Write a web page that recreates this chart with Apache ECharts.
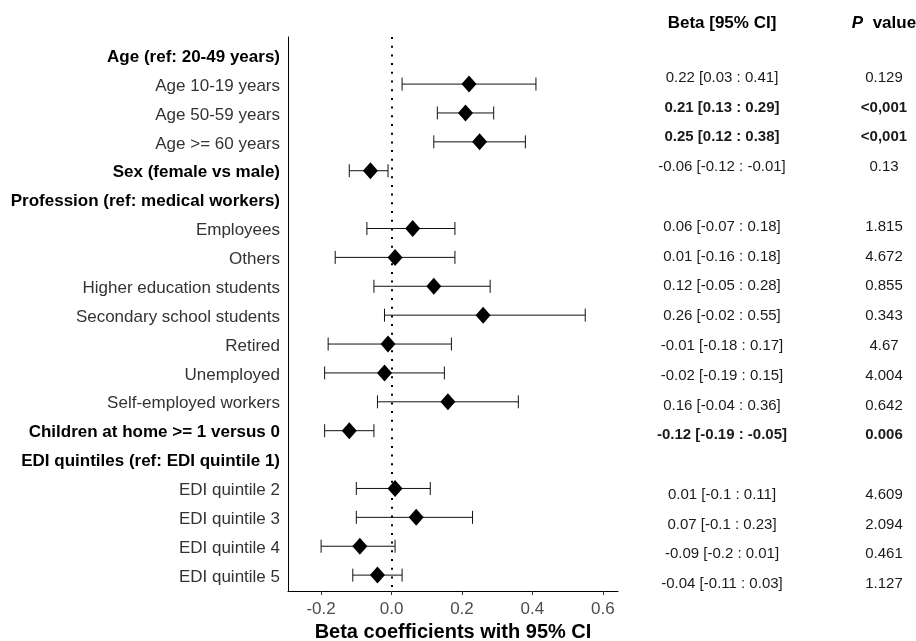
<!DOCTYPE html>
<html>
<head>
<meta charset="utf-8">
<script src="https://cdn.jsdelivr.net/npm/echarts@6/dist/echarts.min.js"></script>
<style>
html,body{margin:0;padding:0;background:#fff;}
#chart{width:916px;height:641px;}
</style>
</head>
<body>
<div id="chart"></div>
<script>
const rowLabels = ['Age (ref: 20-49 years)', 'Age 10-19 years', 'Age 50-59 years', 'Age >= 60 years',
  'Sex (female vs male)', 'Profession (ref: medical workers)', 'Employees', 'Others',
  'Higher education students', 'Secondary school students', 'Retired', 'Unemployed',
  'Self-employed workers', 'Children at home >= 1 versus 0', 'EDI quintiles (ref: EDI quintile 1)',
  'EDI quintile 2', 'EDI quintile 3', 'EDI quintile 4', 'EDI quintile 5'];
const rowBold = [1,0,0,0,1,1,0,0,0,0,0,0,0,1,1,0,0,0,0];
const beta   = [null,0.22,0.21,0.25,-0.06,null,0.06,0.01,0.12,0.26,-0.01,-0.02,0.16,-0.12,null,0.01,0.07,-0.09,-0.04];
const ciLow  = [null,0.03,0.13,0.12,-0.12,null,-0.07,-0.16,-0.05,-0.02,-0.18,-0.19,-0.04,-0.19,null,-0.1,-0.1,-0.2,-0.11];
const ciHigh = [null,0.41,0.29,0.38,-0.01,null,0.18,0.18,0.28,0.55,0.17,0.15,0.36,-0.05,null,0.11,0.23,0.01,0.03];
const pValues = ['','0.129','<0,001','<0,001','0.13','','1.815','4.672','0.855','0.343','4.67','4.004','0.642','0.006','','4.609','2.094','0.461','1.127'];
const tableBold = [0,0,1,1,0,0,0,0,0,0,0,0,0,1,0,0,0,0,0];
const xTicks = [-0.2, 0, 0.2, 0.4, 0.6];
const tableHeaders = ['Beta [95% CI]', 'P value'];
const xTitle = 'Beta coefficients with 95% CI';

const FONT = 'Liberation Sans, Arial, sans-serif';
const idx = rowLabels.map((_, i) => i);

const ciData = [];
const ptData = [];
const betaText = [];
const pText = [];
idx.forEach(i => {
  if (beta[i] !== null) {
    ciData.push([ciLow[i], ciHigh[i], i]);
    ptData.push([beta[i], i]);
    const b = tableBold[i] ? 'bold' : 'normal';
    betaText.push({value: [0, i], label: {fontWeight: b, formatter: beta[i] + ' [' + ciLow[i] + ' : ' + ciHigh[i] + ']'}});
    pText.push({value: [1, i], label: {fontWeight: b, formatter: pValues[i]}});
  }
});

const chart = echarts.init(document.getElementById('chart'), null, {renderer: 'canvas'});
chart.setOption({
  backgroundColor: '#ffffff',
  animation: false,
  textStyle: {fontFamily: FONT},
  grid: [
    {left: 288, width: 330, top: 37, height: 554, outerBoundsMode: 'none', containLabel: false},
    {left: 722, width: 162, top: 33, height: 566, outerBoundsMode: 'none', containLabel: false}
  ],
  xAxis: [
    {
      type: 'value', gridIndex: 0, min: -0.294, max: 0.643,
      splitLine: {show: false},
      axisLine: {show: true, onZero: false, lineStyle: {color: '#000', width: 1}},
      axisTick: {show: true, customValues: xTicks, length: 4, lineStyle: {color: '#333'}},
      axisLabel: {customValues: xTicks, formatter: v => v.toFixed(1), color: '#4d4d4d', fontSize: 17, margin: 10, fontFamily: FONT},
      name: xTitle, nameLocation: 'middle', nameGap: 26,
      nameTextStyle: {fontSize: 20, fontWeight: 'bold', color: '#000', fontFamily: FONT}
    },
    {
      type: 'category', gridIndex: 1, position: 'top', data: tableHeaders, boundaryGap: false,
      axisLine: {show: false}, axisTick: {show: false}, splitLine: {show: false},
      axisLabel: {
        margin: 1.5, interval: 0,
        formatter: v => v === 'P value' ? '{i|P}{h|  value}' : '{h|' + v + '}',
        rich: {
          h: {fontSize: 17, fontWeight: 'bold', color: '#000', fontFamily: FONT},
          i: {fontSize: 17, fontWeight: 'bold', fontStyle: 'italic', color: '#000', fontFamily: FONT}
        }
      }
    }
  ],
  yAxis: [
    {
      type: 'value', gridIndex: 0, inverse: true, min: -0.63, max: 18.55,
      splitLine: {show: false},
      axisLine: {show: true, onZero: false, lineStyle: {color: '#000', width: 1}},
      axisTick: {show: false},
      axisLabel: {
        customValues: idx, margin: 8,
        formatter: v => {
          const i = Math.round(v);
          return (rowBold[i] ? '{b|' : '{n|') + rowLabels[i] + '}';
        },
        rich: {
          b: {fontSize: 17, fontWeight: 'bold', color: '#000', fontFamily: FONT, padding: [4, 0, 0, 0]},
          n: {fontSize: 17, color: '#333', fontFamily: FONT, padding: [4, 0, 0, 0]}
        }
      }
    },
    {type: 'value', gridIndex: 1, inverse: true, min: -0.5, max: 18.5, show: false}
  ],
  series: [
    {
      type: 'custom', xAxisIndex: 0, yAxisIndex: 0, data: ciData, silent: true,
      renderItem: (params, api) => {
        const y = api.value(2);
        const p1 = api.coord([api.value(0), y]);
        const p2 = api.coord([api.value(1), y]);
        const h = 6.5;
        const st = {stroke: '#111', lineWidth: 1};
        return {type: 'group', children: [
          {type: 'line', shape: {x1: p1[0], y1: p1[1], x2: p2[0], y2: p2[1]}, style: st},
          {type: 'line', shape: {x1: p1[0], y1: p1[1] - h, x2: p1[0], y2: p1[1] + h}, style: st},
          {type: 'line', shape: {x1: p2[0], y1: p2[1] - h, x2: p2[0], y2: p2[1] + h}, style: st}
        ]};
      },
      markLine: {
        silent: true, symbol: 'none', label: {show: false},
        lineStyle: {color: '#000', width: 2, type: [2, 6.7], cap: 'butt', opacity: 1},
        data: [{xAxis: 0}]
      }
    },
    {
      type: 'scatter', xAxisIndex: 0, yAxisIndex: 0, data: ptData, silent: true,
      symbol: 'diamond', symbolSize: [15, 17], itemStyle: {color: '#000', opacity: 1}, z: 5
    },
    {
      type: 'scatter', xAxisIndex: 1, yAxisIndex: 1, data: betaText, silent: true,
      symbolSize: 1, itemStyle: {color: 'rgba(0,0,0,0)', opacity: 1},
      label: {show: true, position: 'inside', fontSize: 15, color: '#1a1a1a', fontFamily: FONT}
    },
    {
      type: 'scatter', xAxisIndex: 1, yAxisIndex: 1, data: pText, silent: true,
      symbolSize: 1, itemStyle: {color: 'rgba(0,0,0,0)', opacity: 1},
      label: {show: true, position: 'inside', fontSize: 15, color: '#1a1a1a', fontFamily: FONT}
    }
  ]
});
</script>
</body>
</html>
